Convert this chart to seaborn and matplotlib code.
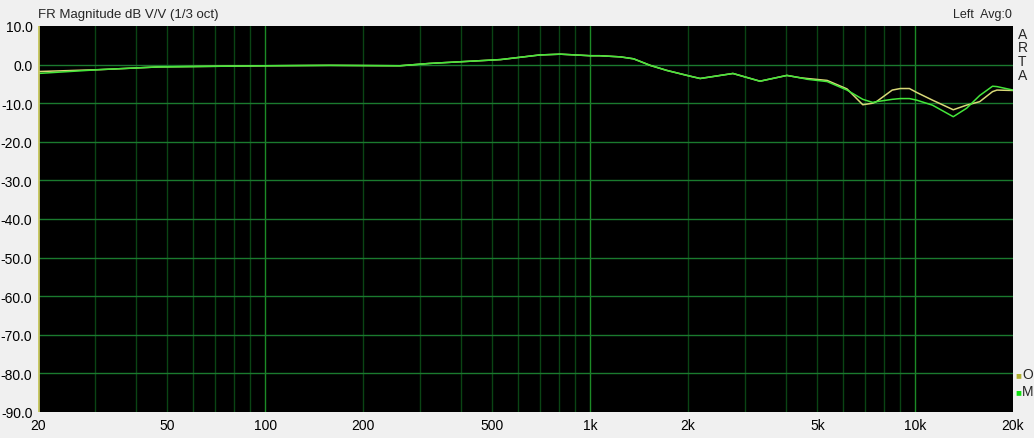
import numpy as np
import pandas as pd
import seaborn as sns
import matplotlib.pyplot as plt
from matplotlib.ticker import FixedLocator, NullFormatter

freq = [20, 31, 47, 100, 158, 260, 320, 530, 700, 810, 1000, 1070, 1240, 1360,
        1530, 1720, 2030, 2180, 2750, 3330, 4030, 4420, 4650, 5360, 6170, 6900,
        7400, 7600, 8500, 9000, 9600, 10100, 11300, 13100, 14400, 15800, 17300,
        17850, 20000]
m_db = [-2.3, -1.3, -0.6, -0.3, -0.2, -0.3, 0.3, 1.3, 2.5, 2.7, 2.3, 2.3, 2.0, 1.5,
        -0.2, -1.5, -3.0, -3.6, -2.3, -4.3, -2.8, -3.4, -3.8, -4.4, -6.6, -9.0,
        -9.8, -9.6, -9.0, -8.8, -8.8, -9.2, -10.5, -13.5, -11.3, -8.0, -5.6,
        -5.7, -6.6]
o_db = [-1.8, -1.3, -0.6, -0.3, -0.2, -0.3, 0.3, 1.3, 2.5, 2.7, 2.3, 2.3, 2.0, 1.5,
        -0.2, -1.5, -3.0, -3.6, -2.3, -4.3, -2.8, -3.4, -3.6, -4.1, -6.3, -10.4,
        -10.0, -9.6, -6.6, -6.2, -6.2, -7.2, -9.2, -11.7, -10.5, -9.6, -7.0,
        -6.6, -6.7]

major_x = [20, 50, 100, 200, 500, 1000, 2000, 5000, 10000, 20000]
major_lbl = ["20", "50", "100", "200", "500", "1k", "2k", "5k", "10k", "20k"]
decades = [100, 1000, 10000]
y_ticks = list(range(10, -100, -10))

df = pd.concat([
    pd.DataFrame({"f": freq, "db": o_db, "trace": "O"}),
    pd.DataFrame({"f": freq, "db": m_db, "trace": "M"}),
])

sns.set_style("dark")
plt.rcParams["font.family"] = ["Liberation Sans", "DejaVu Sans"]

fig = plt.figure(figsize=(10.34, 4.39), dpi=100, facecolor="#f0f0f0")
ax = fig.add_axes([38 / 1034, 1 - 413 / 439, 975 / 1034, 386 / 439])
ax.set_facecolor("black")

ax.set_xscale("log")
ax.set_xlim(20, 20000)
ax.set_ylim(-90, 10)

# minor vertical grid
minor = [m * 10 ** e for e in range(1, 5) for m in range(2, 10)]
minor = [v for v in minor if 20 < v < 20000 and v not in decades]
for v in minor:
    ax.axvline(v, color="#0a4414", lw=1, zorder=1)
for v in decades:
    ax.axvline(v, color="#1c8a26", lw=1, zorder=1)
for v in y_ticks[1:-1]:
    ax.axhline(v, color="#1a7a2e", lw=1, zorder=1)

sns.lineplot(data=df, x="f", y="db", hue="trace",
             palette={"O": "#d8d878", "M": "#44e63a"},
             lw=1.1, legend=False, ax=ax, zorder=3, sort=False)

ax.xaxis.set_major_locator(FixedLocator(major_x))
ax.set_xticklabels(major_lbl)
ax.xaxis.set_minor_formatter(NullFormatter())
ax.set_yticks(y_ticks)
ax.set_yticklabels([f"{v:.1f}" for v in y_ticks])
ax.tick_params(axis="x", length=0, labelsize=10, colors="#000000", pad=4)
ax.tick_params(axis="y", length=0, labelsize=10, colors="#000000", pad=4)
ax.set_xlabel("")
ax.set_ylabel("")
ax.grid(False)
for s in ax.spines.values():
    s.set_visible(False)
ax.axvline(20, color="#c8c864", lw=2, zorder=4)

fig.text(38 / 1034, 1 - 15 / 439, "FR Magnitude dB V/V (1/3 oct)",
         fontsize=9.5, va="center", ha="left")
fig.text(1012 / 1034, 1 - 15 / 439, "Left  Avg:0",
         fontsize=9, va="center", ha="right")
for i, ch in enumerate("ARTA"):
    fig.text(1018 / 1034, 1 - (35 + i * 13.5) / 439, ch,
             fontsize=10, va="center", ha="left")

fig.text(1015 / 1034, 1 - 375 / 439, "\u25a0", color="#b0b030",
         fontsize=7, va="center", ha="left")
fig.text(1022 / 1034, 1 - 375 / 439, "O", fontsize=10, va="center", ha="left")
fig.text(1015 / 1034, 1 - 392 / 439, "\u25a0", color="#10e010",
         fontsize=7, va="center", ha="left")
fig.text(1022 / 1034, 1 - 392 / 439, "M", fontsize=10, va="center", ha="left")

fig.savefig("out.png", dpi=100, facecolor=fig.get_facecolor())
